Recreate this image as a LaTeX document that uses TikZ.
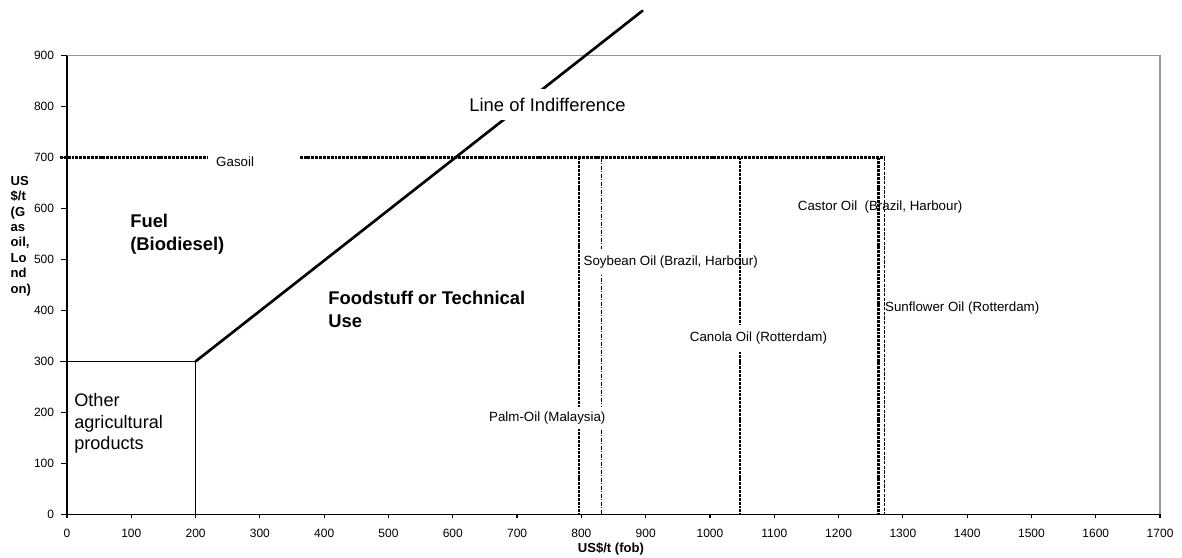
\documentclass[tikz,border=0pt]{standalone}
\usepackage{fontspec}
\setmainfont{Liberation Sans}
\usetikzlibrary{positioning}
\definecolor{frame}{HTML}{969696}

\begin{document}
\begin{tikzpicture}[
  x=0.48225pt, y=0.3822pt,
  axis/.style={black,line width=0.9pt},
  border/.style={frame,line width=1.1pt},
  bound/.style={black,line width=0.9pt},
  price/.style={black,line width=1.9pt,dash pattern=on 2.2pt off 0.7pt},
  soyline/.style={black,line width=0.7pt,dash pattern=on 3pt off 1pt on 1pt off 1pt},
  sunline/.style={black,line width=0.7pt,dash pattern=on 2.5pt off 1pt},
  indiff/.style={black,line width=2pt,line cap=round},
  tick/.style={font=\fontsize{9}{10}\selectfont,inner sep=0pt},
  tag/.style={font=\fontsize{10}{12}\selectfont,inner sep=0pt},
  gaptag/.style={tag,fill=white,inner xsep=1pt,inner ysep=5.3pt},
  region/.style={font=\fontsize{13.8}{17}\selectfont\bfseries,align=left,inner sep=0pt},
  plainregion/.style={font=\fontsize{13.6}{16.3}\selectfont,align=left,inner sep=0pt},
  axtitle/.style={font=\fontsize{9.8}{11.6}\selectfont\bfseries,align=left,inner sep=0pt}
]
\useasboundingbox (-104.2,-85.75) rectangle (1734.1,1009.2);

% frame and axes
\draw[border] (0,900) -- (1700,900) -- (1700,0);
\draw[axis] (0,900) -- (0,0) -- (1700,0);
\foreach \v in {0,100,...,900} {
  \draw[axis] (-9,\v) -- (0,\v);
  \node[tick,anchor=east] (y\v) at (-19.7,\v) {\v};
}
\foreach \u in {0,100,...,1700} {
  \draw[axis] (\u,0) -- (\u,-8);
  \node[tick] (x\u) at (\u,-36.7) {\u};
}
\node[axtitle] (xtitle) at (846,-67.7) {US\$/t (fob)};
\node[axtitle,anchor=west] (ytitle) at (-88,546) {US\\\$/t\\(G\\as\\oil,\\Lo\\nd\\on)};

% other agricultural products
\coordinate (kink) at (200,300);
\draw[bound] (-11,300) -- (kink) -- (200,0);

% gasoil price
\draw[price] (-11,700) -- (219,700);
\draw[price] (362,700) -- (1271,700);
\node[tag,anchor=west] (gasoil) at (231.7,692) {Gasoil};

% vegetable oil prices
\draw[soyline] (831,700) -- (831,0);
\node[gaptag,anchor=west] (soy) at (801,495) {Soybean Oil (Brazil, Harbour)};
\draw[price] (796,700) -- (796,0);
\draw[price] (1047,700) -- (1047,0);
\node[gaptag,anchor=west] (canola) at (966.3,345) {Canola Oil (Rotterdam)};
\draw[price] (1262,700) -- (1262,0);
\draw[sunline] (1272,700) -- (1272,0);
\node[gaptag,inner ysep=3.5pt] (palm) at (747,189.6) {Palm-Oil (Malaysia)};
\node[tag,anchor=west] (castor) at (1136.4,603.6) {Castor Oil~ (Brazil, Harbour)};
\node[tag,anchor=west] (sunflower) at (1272,405.4) {Sunflower Oil (Rotterdam)};

% line of indifference
\coordinate (lineend) at (895,988);
\draw[indiff] (kink) -- (lineend);
\node[font=\fontsize{13.8}{17}\selectfont,fill=white,inner xsep=2pt,inner ysep=6.3pt] (indifference) at (747.3,804) {Line of Indifference};

% regions
\node[region,anchor=west] (fuel) at (98,550) {Fuel\\(Biodiesel)};
\node[region,anchor=west] (food) at (406,402) {Foodstuff or Technical\\Use};
\node[plainregion,anchor=west] (other) at (10.9,178) {Other\\agricultural\\products};
\end{tikzpicture}
\end{document}
